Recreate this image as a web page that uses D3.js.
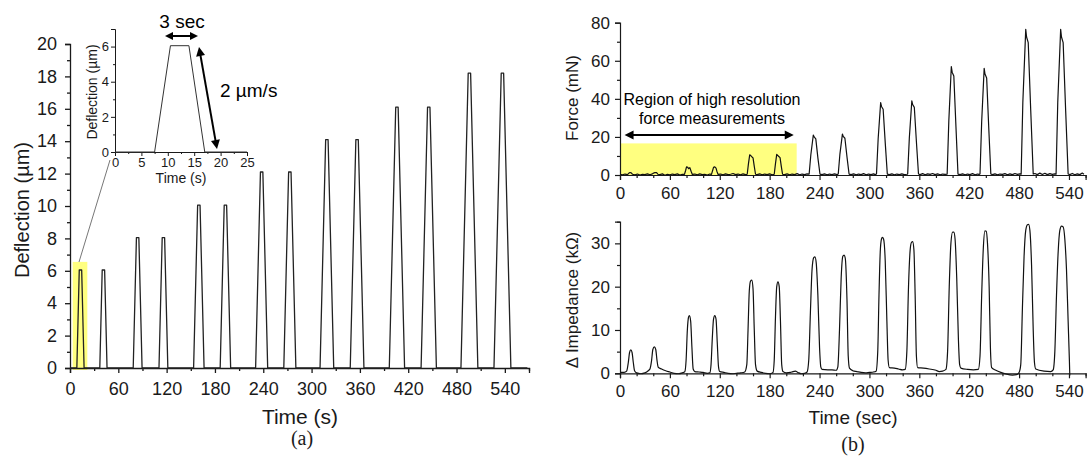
<!DOCTYPE html>
<html><head><meta charset="utf-8">
<script src="https://cdn.jsdelivr.net/npm/d3@7"></script>
<style>body{margin:0;background:#fff}svg{display:block}</style>
</head><body><svg id="c" width="1087" height="457"></svg>
<script>
// ---------- DATA ----------
// (a) deflection profile: [time s, deflection µm]
const deflectionSeries = [
[0,0],
[8.5,0],[11.5,6.05],[14.5,6.05],[17.5,0],
[37,0],[40,6.05],[43,6.05],[46,0],
[78.5,0],[82.5,8.05],[85.5,8.05],[89.5,0],
[110.5,0],[114.5,8.05],[117.5,8.05],[121.5,0],
[153.5,0],[158.5,10.05],[161.5,10.05],[166.5,0],
[186.5,0],[191.5,10.05],[194.5,10.05],[199.5,0],
[230.5,0],[236.5,12.1],[239.5,12.1],[245.5,0],
[265.5,0],[271.5,12.1],[274.5,12.1],[280.5,0],
[310.5,0],[317.5,14.1],[320.5,14.1],[327.5,0],
[348,0],[355,14.1],[358,14.1],[365,0],
[396.5,0],[404.5,16.1],[407.5,16.1],[415.5,0],
[436,0],[444,16.1],[447,16.1],[455,0],
[485.5,0],[494.5,18.2],[497.5,18.2],[506.5,0],
[526.5,0],[535.5,18.2],[538.5,18.2],[547.5,0],
[568,0]
];
// inset: single loading cycle
const insetSeries = [[0,0],[7.5,0],[10.5,6.05],[14,6.05],[17,0],[25,0]];

// (b) force [time s, mN]
const forceSeries = [
[0,0.3],[3,0.1],[6,0.5],[9,0.2],[10.5,0.9],[12,1.3],[13.5,1.1],[15,0.4],[18,0.1],[21,0.5],[24,0.0],[27,0.4],[30,0.2],[33,0.6],[36,0.1],[39,0.6],[40.5,1.0],[42,1.3],[44,1.2],[45.5,0.4],[48,0.2],[51,0.6],[54,-0.1],[57,0.4],[60,0.1],[63,0.5],[66,0.2],[69,0.6],[72,0.0],[75,0.4],[77.5,0.3],
[79,2.5],[80,4.3],[81.5,4.0],[82.5,3.3],[84,3.9],[85.5,2.0],[87,0.3],
[90,0.5],[93,0.1],[96,0.6],[99,0.2],[102,0.4],[105,0.0],[108,0.5],[110,0.3],
[111.5,2.5],[112.5,4.0],[114,4.3],[115.5,3.6],[116.5,2.0],[118,0.3],
[121,0.5],[124,0.1],[127,0.6],[130,0.2],[133,0.4],[136,0.8],[139,0.2],[142,0.5],[145,0.1],[148,0.6],[151,0.2],[153,0.4],
[154.5,6],[156,10.6],[157.5,10.1],[158.5,9.6],[160,9.0],[161.5,4.5],[163,0.4],
[165,0.2],[168,0.6],[171,0.1],[174,0.5],[177,0.2],[180,0.6],[183,0.1],[185.5,0.4],
[187,6],[188.5,10.8],[190,10.2],[191,9.7],[192.5,9.1],[194,4.5],[195.5,0.4],
[198,0.2],[201,0.6],[204,0.1],[207,0.5],[210,0.2],[213,0.7],[216,0.1],[219,0.5],[222,0.2],[225,0.6],
[227.5,0.5],[229.5,10.5],[232.5,21],[233.5,20],[235.5,19],[238,9],[240.5,0.5],
[243,0.2],[246,0.6],[249,0.1],[252,0.5],[255,0.2],[258,0.6],[261,0.2],
[262.5,0.5],[264.5,11],[267.5,21.5],[268.5,20.3],[270.5,19.3],[273,9.5],[275.5,0.5],
[278,0.2],[281,0.6],[284,0.1],[287,0.5],[290,0.2],[293,0.7],[296,0.1],[299,0.5],[302,0.2],[305,0.6],[307,0.2],
[308.5,0.5],[310.5,19],[313.5,38],[314.5,36],[316.5,34.5],[319,17],[321.5,0.5],
[324,0.2],[327,0.6],[330,0.1],[333,0.5],[336,0.2],[339,0.6],[342,0.2],[345,0.4],
[346,0.5],[348,19.5],[351,39],[352,37],[354,35.5],[356.5,17.5],[359,0.5],
[361,0.2],[364,0.7],[367,0.1],[370,0.6],[373,0.3],[376,0.8],[379,0.2],[382,0.6],[385,0.1],[388,0.5],[391,0.3],
[393.5,0.5],[395.5,28.5],[398.5,57],[399.5,54],[401.5,52],[404,26],[406.5,0.5],
[409,0.2],[412,0.6],[415,0.1],[418,0.5],[421,0.2],[424,0.7],[427,0.1],[430,0.5],[432,0.3],
[433,0.5],[435,28],[438,56],[439,53],[441,51],[443.5,25],[446,0.5],
[448,0.2],[451,0.6],[454,0.1],[457,0.5],[460,0.3],[463,0.7],[466,0.1],[469,0.6],[472,0.2],[475,0.8],[478,0.3],[481,0.6],
[482.5,0.5],[484.5,38],[488,76.5],[489,72.5],[491,69.5],[494,34],[497,0.5],
[499,0.8],[502,0.2],[505,1.0],[508,0.3],[511,0.9],[514,0.2],[517,0.7],[520,0.3],[523,0.6],
[524.5,0.5],[526.5,38],[530,76.5],[531,72.5],[533,69.5],[536,34],[539,0.5],
[541,0.2],[544,0.8],[547,0.1],[550,0.6],[553,0.2],[556,1.0],[558,0.4]
];
// (b) impedance change [time s, kΩ]
const impedanceSeries = [
[0,0.2],[5,0.2],[8,0.5],[10,2.5],[11.5,4.8],[13,5.4],[14.5,4.8],[16,2.5],[17.5,0.6],[20,0.1],[25,-0.1],[30,0.1],[34,0.6],[36,1.0],[38,3],[39.5,5.5],[41.3,6.1],[43,5.5],[44.5,3],[46,1.4],[50,1.0],[55,0.6],[60,0.3],[65,0],[70,-0.1],[75,0.1],[78,0.4],[79.5,3],[81,10],[82.5,13],[83.5,13.3],[85,12],[86.5,6],[88,1],[90,0.4],[95,0.3],[100,0.2],[105,0],[108,0.1],[109.5,2],[111,8],[112.5,12.5],[114,13.3],[115.5,12.5],[117,7],[118.5,1.5],[120,0.4],[125,0.2],[130,0],[135,-0.1],[140,0],[145,0.1],[150,0.3],[152.5,2],[154,10],[155.5,19],[157,21.3],[158.5,21.5],[160,19.5],[161.5,10],[163,2],[165,0.5],[170,0.2],[175,0],[180,-0.1],[184,0.2],[185.5,3],[187,13],[188.5,20],[190,21.1],[191.5,20],[193,12],[194.5,2],[196,0.4],[200,0.1],[205,0.2],[208,0.4],[211,0.5],[214,0.2],[218,-0.1],[222,0],[225,0.3],[227,3],[229,14],[231,24],[233,26.7],[234.5,26.9],[236,25.5],[238,18],[240,6],[241.5,1.5],[243,0.9],[250,0.8],[255,0.8],[260,0.7],[262,1.5],[264,10],[266,22],[268,27],[269.5,27.3],[271,26.5],[273,17],[274.5,4],[276,1.2],[280,0.6],[285,0.4],[290,0.2],[295,0.1],[300,0.2],[305,0.3],[308,0.5],[310,5],[311.5,18],[313,28],[314.5,31],[315.6,31.4],[317,31],[319,26],[321,12],[322.5,3],[324,1.3],[330,1.2],[335,1.0],[340,0.8],[343,0.9],[345,5],[347,20],[349,28.5],[350.5,30.2],[352,30.4],[353.5,28.5],[355,18],[356.5,4],[358,1.3],[365,1.2],[372,1.0],[380,0.7],[384,0.4],[388,0.5],[392,0.9],[394,5],[396,20],[398,30],[400,32.6],[401.5,32.6],[403,31],[405,22],[407,8],[408.5,2],[410,1.2],[418,0.9],[425,0.8],[431,0.9],[433,4],[435,18],[437,29],[439,32.9],[440.5,32.8],[442,30],[444,20],[445.5,6],[447,1.3],[452,0.7],[458,0.2],[465,-0.2],[472,-0.4],[477,-0.3],[480,0.2],[482,2],[484,15],[486,27],[488,33],[490,34.3],[491.5,34.4],[493,33],[495,25],[497,10],[498.5,2.5],[500,1.0],[510,0.5],[518,0.4],[521,0.8],[523,5],[525,18],[527,28],[529,33],[531,34],[533,33.8],[535,31],[537,24],[539,12],[540.5,3],[541,-0.5]
];

// tick values
const timeTicksA = [0,60,120,180,240,300,360,420,480,540];
const timeMinorA = [30,90,150,210,270,330,390,450,510,570];
const deflTicks = [0,2,4,6,8,10,12,14,16,18,20];
const deflMinor = [1,3,5,7,9,11,13,15,17,19];
const insetTimeTicks = [0,5,10,15,20,25];
const insetTimeMinor = [2.5,7.5,12.5,17.5,22.5];
const insetDeflTicks = [0,2,4,6];
const insetDeflMinor = [1,3,5,7];
const timeTicksB = [0,60,120,180,240,300,360,420,480,540];
const timeMinorB = [20,40,80,100,140,160,200,220,260,280,320,340,380,400,440,460,500,520,560];
const forceTicks = [0,20,40,60,80];
const forceMinor = [10,30,50,70];
const impTicks = [0,10,20,30];
const impMinor = [5,15,25,35];

// ---------- DRAW ----------
const svg = d3.select("#c");
const SANS = "'Liberation Sans', Arial, sans-serif";
const SERIF = "'Liberation Serif', 'Times New Roman', serif";
const INK = "#1a1a1a";
const fmt = d3.format("~g");

function drawAxis(g, scale, orient, pos, major, minor, o) {
  const mk = orient === "bottom" ? d3.axisBottom : d3.axisLeft;
  const tr = orient === "bottom" ? `translate(0,${pos})` : `translate(${pos},0)`;
  const a = g.append("g").attr("transform", tr)
    .call(mk(scale).tickValues(major).tickFormat(fmt).tickSizeOuter(0).tickSize(o.major).tickPadding(o.pad));
  a.select(".domain").attr("stroke", INK).attr("stroke-width", o.sw);
  a.selectAll(".tick line").attr("stroke", INK).attr("stroke-width", o.sw);
  a.selectAll("text").attr("font-family", SANS).attr("font-size", o.fs).attr("fill", INK);
  const m = g.append("g").attr("transform", tr)
    .call(mk(scale).tickValues(minor).tickSizeOuter(0).tickSize(o.minor).tickFormat(""));
  m.select(".domain").remove();
  m.selectAll(".tick line").attr("stroke", INK).attr("stroke-width", o.sw);
}

function arrowHead(g, x, y, ang, len, wid) {
  const c = Math.cos(ang), s = Math.sin(ang);
  const bx = x - c*len, by = y - s*len;
  const px = -s*wid/2, py = c*wid/2;
  g.append("path").attr("d", `M${x},${y}L${bx+px},${by+py}L${bx-px},${by-py}Z`).attr("fill", "#000");
}
function dblArrow(g, x1, y1, x2, y2, len, wid, sw) {
  const ang = Math.atan2(y2-y1, x2-x1);
  const c = Math.cos(ang), s = Math.sin(ang);
  g.append("line").attr("x1", x1 + c*len*0.8).attr("y1", y1 + s*len*0.8)
    .attr("x2", x2 - c*len*0.8).attr("y2", y2 - s*len*0.8)
    .attr("stroke", "#000").attr("stroke-width", sw);
  arrowHead(g, x2, y2, ang, len, wid);
  arrowHead(g, x1, y1, ang + Math.PI, len, wid);
}

// ===== Panel (a) =====
const xA = d3.scaleLinear().domain([0,570]).range([70,529]);
const yA = d3.scaleLinear().domain([0,20]).range([368,44]);
const gA = svg.append("g");

gA.append("rect").attr("x", xA(3.4)).attr("y", yA(6.55))
  .attr("width", xA(21.5)-xA(3.4)).attr("height", yA(0)-yA(6.55)+2)
  .attr("fill", "#ffff80");

drawAxis(gA, xA, "bottom", yA(0), timeTicksA, timeMinorA, {major:5, minor:3, pad:9, fs:18, sw:1.3});
drawAxis(gA, yA, "left", xA(0), deflTicks, deflMinor, {major:5, minor:3, pad:8, fs:18, sw:1.3});

const lineA = d3.line().x(d => xA(d[0])).y(d => yA(d[1]));
gA.append("path").datum(deflectionSeries).attr("d", lineA)
  .attr("fill", "none").attr("stroke", "#222").attr("stroke-width", 1.3).attr("stroke-linejoin", "round");

gA.append("text").attr("x", 300).attr("y", 424).attr("text-anchor", "middle")
  .attr("font-family", SANS).attr("font-size", 21).attr("fill", INK).text("Time (s)");
gA.append("text").attr("transform", "translate(29,210) rotate(-90)").attr("text-anchor", "middle")
  .attr("font-family", SANS).attr("font-size", 20).attr("fill", INK).text("Deflection (\u00b5m)");
gA.append("text").attr("x", 302).attr("y", 445).attr("text-anchor", "middle")
  .attr("font-family", SERIF).attr("font-size", 20).attr("fill", INK).text("(a)");

gA.append("line").attr("x1", 79).attr("y1", 262).attr("x2", 110).attr("y2", 160)
  .attr("stroke", "#777").attr("stroke-width", 1);

// ----- inset -----
const xI = d3.scaleLinear().domain([0,25]).range([115,247]);
const yI = d3.scaleLinear().domain([0,7]).range([152,29]);
const gI = svg.append("g");
drawAxis(gI, xI, "bottom", yI(0), insetTimeTicks, insetTimeMinor, {major:4, minor:2, pad:2, fs:13, sw:1});
drawAxis(gI, yI, "left", xI(0), insetDeflTicks, insetDeflMinor, {major:4, minor:2, pad:2, fs:13, sw:1});
gI.append("path").datum(insetSeries).attr("d", d3.line().x(d => xI(d[0])).y(d => yI(d[1])))
  .attr("fill", "none").attr("stroke", "#333").attr("stroke-width", 1);
gI.append("text").attr("x", 181).attr("y", 183).attr("text-anchor", "middle")
  .attr("font-family", SANS).attr("font-size", 14).attr("fill", INK).text("Time (s)");
gI.append("text").attr("transform", "translate(97,92) rotate(-90)").attr("text-anchor", "middle")
  .attr("font-family", SANS).attr("font-size", 14).attr("fill", INK).text("Deflection (\u00b5m)");
dblArrow(gI, 165, 36, 198, 36, 8, 8, 2);
gI.append("text").attr("x", 182).attr("y", 28).attr("text-anchor", "middle")
  .attr("font-family", SANS).attr("font-size", 19).attr("fill", "#000").text("3 sec");
dblArrow(gI, 199, 47, 217, 149, 9, 9, 2);
gI.append("text").attr("x", 220).attr("y", 97)
  .attr("font-family", SANS).attr("font-size", 19).attr("fill", "#000").text("2 \u00b5m/s");

// ===== Panel (b) top: force =====
const xB = d3.scaleLinear().domain([0,560]).range([620,1085.6]);
const yF = d3.scaleLinear().domain([0,80]).range([175,22.7]);
const gF = svg.append("g");
gF.append("rect").attr("x", xB(0)).attr("y", yF(16.6))
  .attr("width", xB(212.5)-xB(0)).attr("height", yF(0)-yF(16.6))
  .attr("fill", "#ffff80");
gF.append("path").datum(forceSeries).attr("d", d3.line().x(d => xB(d[0])).y(d => yF(d[1])))
  .attr("fill", "none").attr("stroke", "#111").attr("stroke-width", 1.2).attr("stroke-linejoin", "round");
drawAxis(gF, xB, "bottom", yF(0), timeTicksB, timeMinorB, {major:5, minor:3, pad:7, fs:17, sw:1.2});
drawAxis(gF, yF, "left", xB(0), forceTicks, forceMinor, {major:5, minor:3, pad:5, fs:17, sw:1.2});
gF.append("text").attr("transform", "translate(578,98) rotate(-90)").attr("text-anchor", "middle")
  .attr("font-family", SANS).attr("font-size", 17).attr("fill", INK).text("Force (mN)");
gF.append("text").attr("x", 712).attr("y", 105).attr("text-anchor", "middle")
  .attr("font-family", SANS).attr("font-size", 16).attr("fill", "#000").text("Region of high resolution");
gF.append("text").attr("x", 712).attr("y", 124).attr("text-anchor", "middle")
  .attr("font-family", SANS).attr("font-size", 16).attr("fill", "#000").text("force measurements");
dblArrow(gF, xB(5.5), yF(21), xB(209), yF(21), 9, 9, 2);

// ===== Panel (b) bottom: impedance =====
const yZ = d3.scaleLinear().domain([0,35]).range([373.3,221.7]);
const gZ = svg.append("g");
gZ.append("path").datum(impedanceSeries)
  .attr("d", d3.line().curve(d3.curveMonotoneX).x(d => xB(d[0])).y(d => yZ(d[1])))
  .attr("fill", "none").attr("stroke", "#111").attr("stroke-width", 1.2);
drawAxis(gZ, xB, "bottom", yZ(0), timeTicksB, timeMinorB, {major:5, minor:3, pad:7, fs:17, sw:1.2});
drawAxis(gZ, yZ, "left", xB(0), impTicks, impMinor, {major:5, minor:3, pad:5, fs:17, sw:1.2});
gZ.append("text").attr("transform", "translate(578,300) rotate(-90)").attr("text-anchor", "middle")
  .attr("font-family", SANS).attr("font-size", 17).attr("fill", INK).text("\u0394 Impedance (k\u03a9)");
gZ.append("text").attr("x", 853).attr("y", 424).attr("text-anchor", "middle")
  .attr("font-family", SANS).attr("font-size", 19).attr("fill", INK).text("Time (sec)");
gZ.append("text").attr("x", 853).attr("y", 451).attr("text-anchor", "middle")
  .attr("font-family", SERIF).attr("font-size", 20).attr("fill", INK).text("(b)");
</script>
</body></html>
